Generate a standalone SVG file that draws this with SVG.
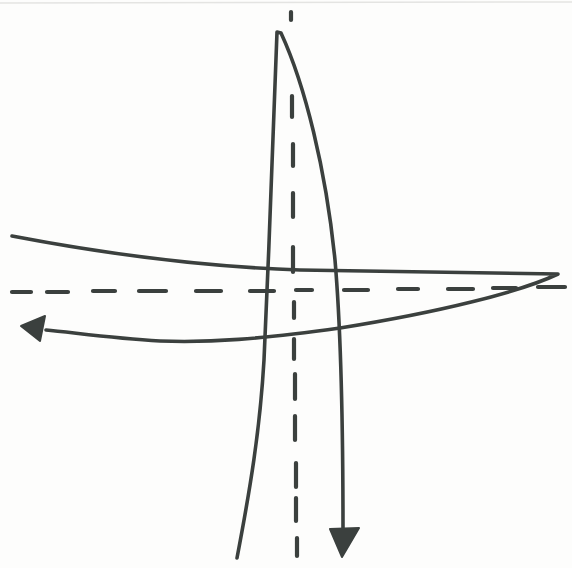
<svg xmlns="http://www.w3.org/2000/svg" width="572" height="568" viewBox="0 0 572 568">
<style>
.s{fill:none;stroke:#3b403e;stroke-width:3.6;stroke-linecap:round;stroke-linejoin:round}
.d{fill:none;stroke:#3b403e;stroke-width:4.2;stroke-linecap:round}
.h{fill:#3b403e;stroke:#3b403e;stroke-width:2;stroke-linejoin:round}
</style>
<rect width="572" height="568" fill="#fdfdfc"/>
<line x1="0" y1="3" x2="572" y2="2" stroke="#e4e4e2" stroke-width="1.5"/>
<g id="axis-h">
<path class="d" d="M12,292 H31 M47,292 H68 M93,291 H115 M139,291 H166 M196,291 H221 M250,291 H274 M296,290 H312 M344,290 H368 M398,289 H418 M448,289 H473 M493,288 H516 M538,287 H565"/>
</g>
<g id="axis-v">
<path class="d" d="M291,12 V20 M292,96 V117 M293,144 V166 M293,193 V217 M293,247 V272 M294,302 V318 M294,339 V359 M295,374 V399 M295,416 V440 M296,463 V487 M296,498 V521 M297,538 V556"/>
</g>
<g id="connectors">
<g id="curve-vertical">
<path class="s" d="M237,558 C250,490 260,430 264,360 C269,250 274,120 277,32 L281,33 C305,85 326,170 335,260 C341,330 343,430 343,530"/>
<polygon class="h" points="330,529 359,528 342,557"/>
</g>
<g id="curve-horizontal">
<path class="s" d="M12,236 C80,249 180,266 300,270 C400,272 480,273 558,274 C520,292 440,312 340,328 C260,339 210,343 160,341 C110,338 70,332 46,330"/>
<polygon class="h" points="21,326 45,316 40,341"/>
</g>
</g>
</svg>
